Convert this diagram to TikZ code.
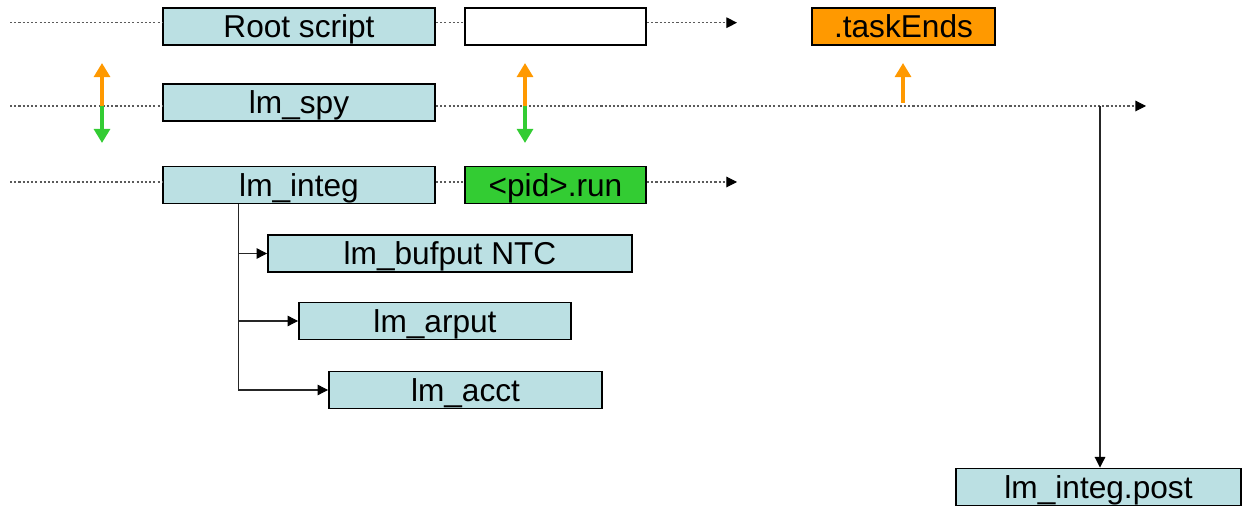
\documentclass[tikz,border=0pt]{standalone}
\usepackage{fontspec}
\setmainfont{Liberation Sans}
\usetikzlibrary{arrows.meta,positioning}
\definecolor{boxblue}{RGB}{187,224,227}
\definecolor{endorange}{RGB}{255,153,0}
\definecolor{rungreen}{RGB}{51,204,51}
\definecolor{dotgray}{RGB}{90,90,90}
\tikzset{
    proc/.style = {
        draw, 
        fill=boxblue, 
        rectangle, 
        line width=1.1pt,
        inner sep=0pt,
        text height=0.6cm,
        text depth=0.14cm,
        minimum width=5.44cm,
        font=\fontsize{18}{21}\selectfont
    },
    flagbox/.style = {
        proc,
        minimum width=3.62cm
    },
    timeline/.style = {
        draw=dotgray,
        line width=0.6pt,
        dash pattern=on 1.2pt off 1.2pt
    },
    tree/.style = {
        draw=black!85,
        line width=0.6pt,
        -{Triangle[length=6pt,width=6pt,black]}
    },
    signal/.style = {
        line width=2.3pt,
        -{Triangle[length=8pt,width=9pt]}
    }
}

\begin{document}
\begin{tikzpicture}[x=0.02cm, y=-0.02cm, >={Triangle[length=6pt,width=6pt,black]}]
            \useasboundingbox (0,0) rectangle (1243,509);
            % nodes
            \node [proc] (root) at (299,26.5) {Root script};
            \node [flagbox,fill=white] (flag) at (555.5,26.5) {};
            \node [flagbox,fill=endorange,minimum width=3.66cm] (taskends) at (903.5,26.5) {.taskEnds};
            \node [proc] (spy) at (299,102.5) {lm\_spy};
            \node [proc] (integ) at (299,185) {lm\_integ};
            \node [flagbox,fill=rungreen] (run) at (555.5,185) {<pid>.run};
            \node [proc,minimum width=7.28cm] (bufput) at (450,253.5) {lm\_bufput NTC};
            \node [proc] (arput) at (435,321) {lm\_arput};
            \node [proc,minimum width=5.46cm] (acct) at (465.5,390) {lm\_acct};
            \node [proc,minimum width=5.7cm] (post) at (1098.5,487) {lm\_integ.post};

            % time lines
            \coordinate (rootstart) at (10,22.7);
            \coordinate (rootend) at (737,22.7);
            \coordinate (spystart) at (10,106);
            \coordinate (spyend) at (1146,106);
            \coordinate (integstart) at (10,182);
            \coordinate (integend) at (737,182);

            \draw [timeline] (rootstart) -- (rootstart -| root.west);
            \draw [timeline] (rootstart -| root.east) -- (rootstart -| flag.west);
            \draw [timeline,->] (rootstart -| flag.east) -- (rootend);
            \draw [timeline] (spystart) -- (spystart -| spy.west);
            \draw [timeline,->] (spystart -| spy.east) -- (spyend);
            \draw [timeline] (integstart) -- (integstart -| integ.west);
            \draw [timeline] (integstart -| integ.east) -- (integstart -| run.west);
            \draw [timeline,->] (integstart -| run.east) -- (integend);

            % signals
            \coordinate (leftsplit) at (102,106);
            \coordinate (midsplit) at (525,106);
            \coordinate (endsplit) at (903,103);
            \draw [signal,endorange] (leftsplit) -- ++(0,-43);
            \draw [signal,rungreen] (leftsplit) -- ++(0,37);
            \draw [signal,endorange] (midsplit) -- ++(0,-43);
            \draw [signal,rungreen] (midsplit) -- ++(0,37);
            \draw [signal,endorange] (endsplit) -- ++(0,-40);

            % calls
            \coordinate (trunk) at ([xshift=1.52cm]integ.south west);
            \draw [tree] (trunk) |- (bufput.west);
            \draw [tree] (trunk) |- (arput.west);
            \draw [tree] (trunk) |- (acct.west);
            \coordinate (postsplit) at (1100,106);
            \draw [tree] (postsplit) -- (postsplit |- post.north);
        \end{tikzpicture}
\end{document}
